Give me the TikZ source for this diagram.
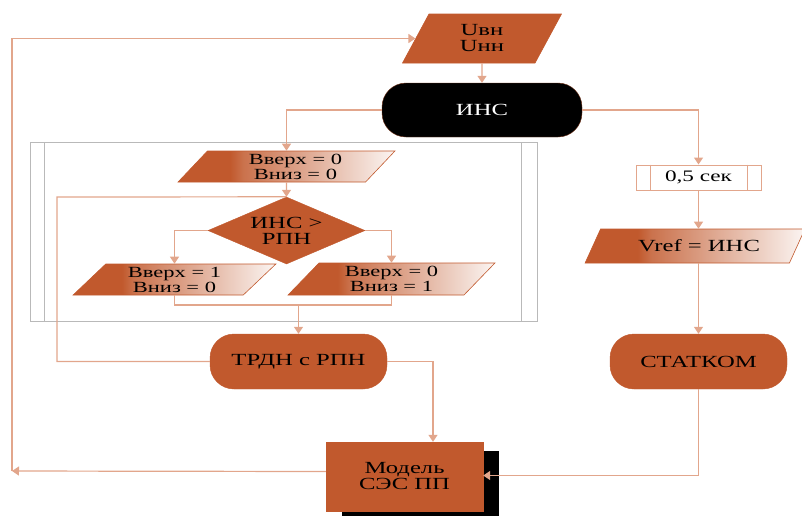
\documentclass[tikz,border=0pt]{standalone}
\usepackage{fontspec}
\setmainfont[FakeStretch=1.45]{Liberation Serif}
\usetikzlibrary{shapes.geometric,arrows.meta,shadows}
\definecolor{ora}{RGB}{193,89,45}
\definecolor{lnk}{RGB}{226,166,140}
\definecolor{frm}{RGB}{185,185,185}
\pgfdeclarehorizontalshading{pshade}{100bp}{color(0bp)=(ora); color(37bp)=(ora); color(40bp)=(ora!85!white); color(75bp)=(ora!6!white); color(100bp)=(ora!6!white)}
\begin{document}
\begin{tikzpicture}[x=1pt,y=-1pt,
  every node/.style={inner sep=0pt, align=center, font=\fontsize{17}{16}\selectfont},
  conn/.style={draw=lnk, line width=1.2pt},
  arr/.style={conn, -{Triangle[width=9pt,length=7pt]}},
  rbox/.style={rounded corners=24pt, fill=ora, draw=ora, minimum width=177pt, minimum height=55pt},
  para/.style={trapezium, trapezium stretches=true, draw=ora, line width=0.6pt},
  gpara/.style={para, shade, shading=pshade, font=\fontsize{15.5}{15}\selectfont},
]
\useasboundingbox (0,0) rectangle (802,515);
% loop frame
\draw[frm, line width=1pt] (30,142) rectangle (537,321);
\draw[frm, line width=1pt] (44,142) -- (44,321) (521,142) -- (521,321);

\node[para, fill=ora, trapezium left angle=68, trapezium right angle=112, minimum width=160pt, minimum height=49pt] (inp) at (482,38.5) {Uвн\\Uнн};
\node[rbox, fill=black, draw=ora!60!black, minimum width=200pt, minimum height=54pt, text=white] (ins) at (482,110) {ИНС};
\node[gpara, trapezium left angle=51, trapezium right angle=129, minimum width=217pt, minimum height=31pt] (p0) at (286.5,166.5) {\hspace*{18pt}Вверх = 0\\\hspace*{18pt}Вниз = 0};
\node[diamond, aspect=2.34, fill=ora, draw=ora, minimum width=157pt, minimum height=67pt] (dia) at (286.5,230.5) {ИНС >\\РПН};
\node[gpara, trapezium left angle=49, trapezium right angle=131, minimum width=203pt, minimum height=31pt] (p1) at (174.5,279.5) {Вверх = 1\\Вниз = 0};
\node[gpara, trapezium left angle=52, trapezium right angle=128, minimum width=207pt, minimum height=32pt] (p2) at (391.5,279) {Вверх = 0\\Вниз = 1};
\node[rbox] (trdn) at (298.5,361.5) {ТРДН с РПН};
\node[fill=ora, draw=ora, minimum width=157pt, minimum height=69pt, drop shadow={shadow xshift=16pt, shadow yshift=-9pt, fill=black, opacity=1}] (model) at (404.5,476.5) {Модель\\СЭС ПП};
\node[draw=lnk, line width=1pt, fill=white, minimum width=125pt, minimum height=25pt, font=\fontsize{16}{14}\selectfont] (sec) at (698.5,177.5) {0,5 сек};
\draw[lnk, line width=1pt] ([xshift=15pt]sec.north west) -- ([xshift=15pt]sec.south west)
  ([xshift=-14pt]sec.north east) -- ([xshift=-14pt]sec.south east);
\node[gpara, trapezium left angle=49, trapezium right angle=131, minimum width=220pt, minimum height=34pt, font=\fontsize{17}{16}\selectfont] (vref) at (695,246) {\hspace*{8pt}Vref = ИНС};
\node[rbox] (stat) at (698.5,361.5) {СТАТКОМ};

% connectors
\coordinate (fbc) at (12,471);
\coordinate (mrg) at (298.5,305);
\coordinate (lp) at (57,197);
\draw[arr] ([yshift=5pt]model.west) -- (fbc);
\draw[arr] (fbc) |- (inp.west);
\draw[arr] (inp.south) -- (ins.north);
\draw[arr] (ins.west) -| (p0.north);
\draw[arr] (ins.east) -| (sec.north);
\draw[arr] (sec.south) -- (sec.south |- vref.north);
\draw[arr] (vref.south -| stat.north) -- (stat.north);
\draw[arr] (p0.south) -- (dia.north);
\draw[arr] (dia.west) -| (p1.north);
\draw[arr] (dia.east) -| (p2.north);
\draw[conn] (p1.south) |- (mrg) -| (p2.south);
\draw[arr] (mrg) -- (trdn.north);
\draw[conn] (trdn.west) -| (lp) -- (dia.north);
\draw[arr] (trdn.east) -| ([xshift=28.5pt]model.north);
\draw[arr] (stat.south) |- ([yshift=1pt]model.east);
\end{tikzpicture}
\end{document}
